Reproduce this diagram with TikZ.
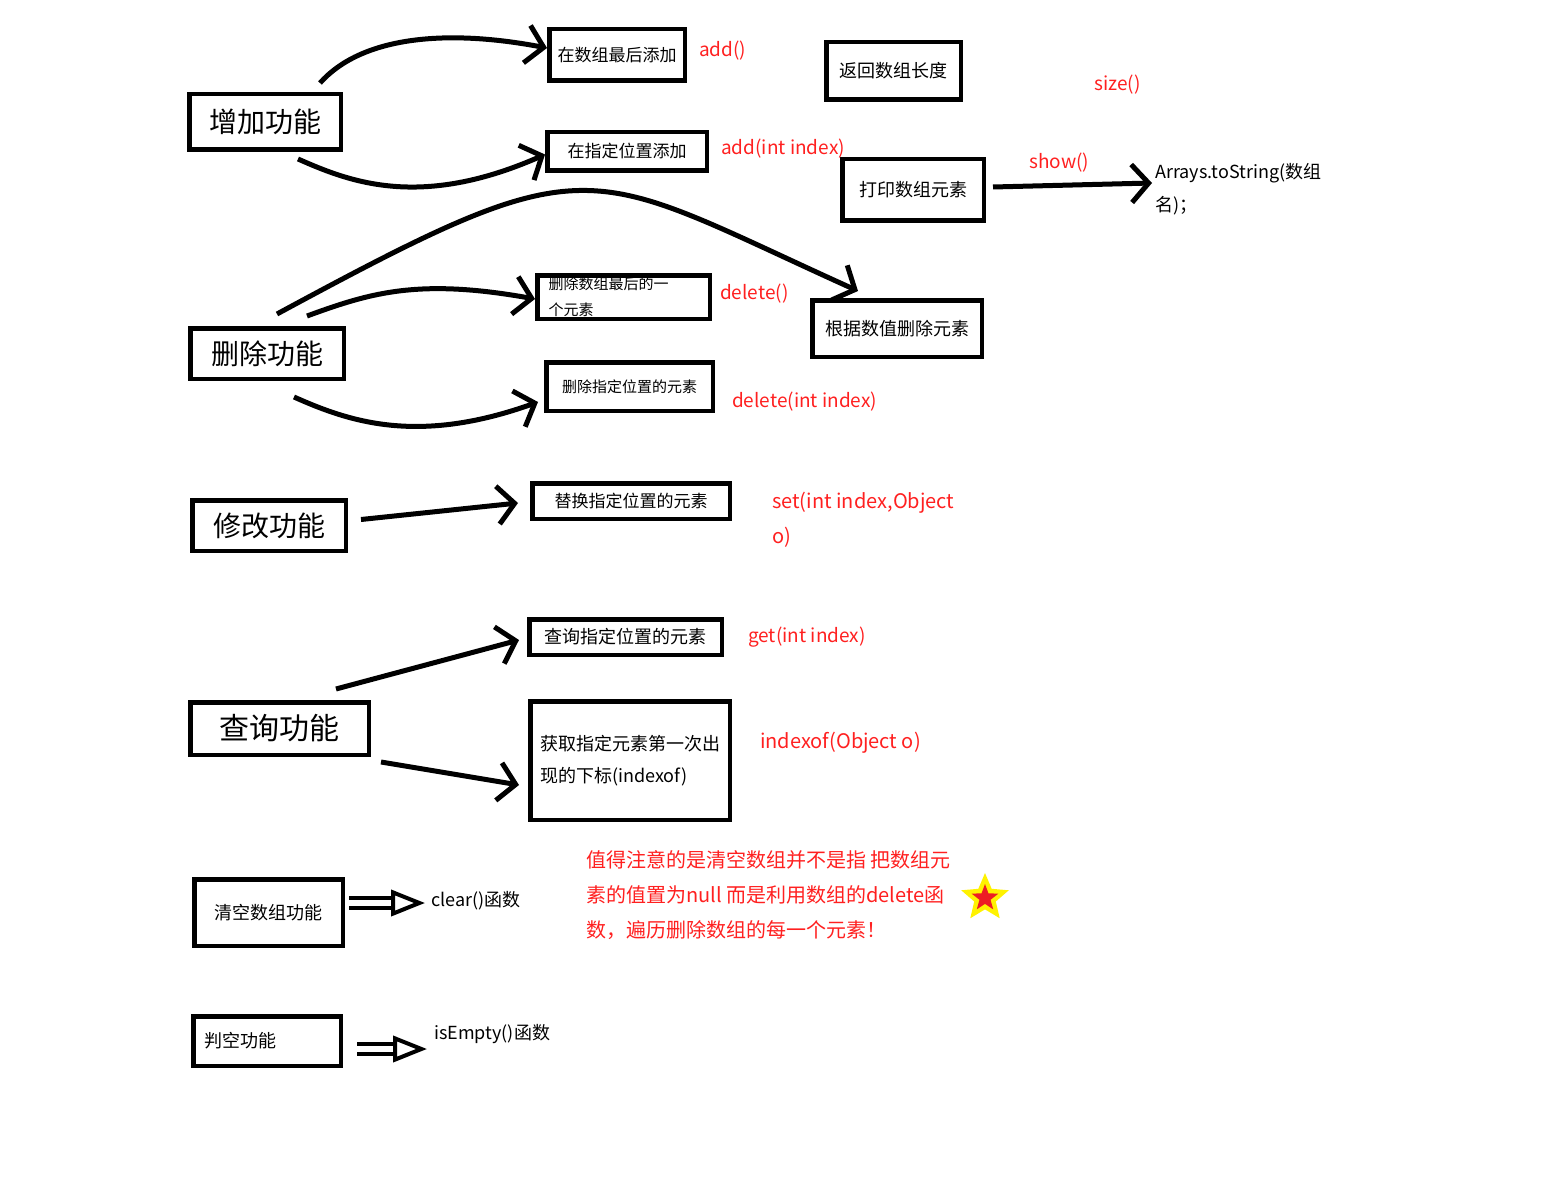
\documentclass[tikz,border=0pt]{standalone}
\usepackage{fontspec}
\setmainfont{Noto Sans CJK SC}
\definecolor{FnRed}{HTML}{FF2020}
\definecolor{StarRed}{HTML}{ED1C24}
\definecolor{StarYellow}{HTML}{FFF200}
\usetikzlibrary{positioning, arrows.meta, shapes.geometric, calc}
\newcommand{\fsz}[2]{\fontsize{#1}{#2}\selectfont}

\begin{document}
\begin{tikzpicture}[
  x=1pt, y=-1pt,
  box/.style={draw, line width=4.5pt, inner sep=0pt, align=center},
  main/.style={box, font=\fsz{28pt}{34pt}},
  item/.style={box, font=\fsz{18pt}{32pt}},
  fn/.style={text=FnRed, font=\fsz{19pt}{35pt}, inner sep=0pt, align=left, anchor=west},
  txt/.style={font=\fsz{18pt}{33pt}, inner sep=0pt, align=left, anchor=west},
  arr/.style={line width=5pt, -{Straight Barb[length=17pt, width=38pt]}},
  hollow/.style={double, double distance=6pt, line width=4pt,
                 -{Triangle[open, length=34pt, width=26pt, line width=4pt]}},
]
  \useasboundingbox (0,0) rectangle (1547,1177);

  % function groups
  \node[main, minimum width=151.5pt, minimum height=55.5pt] (add) at (265,122) {增加功能};
  \node[main, minimum width=153.5pt, minimum height=50.5pt] (del) at (267,353.5) {删除功能};
  \node[main, minimum width=153.5pt, minimum height=50.5pt] (mod) at (269,525.5) {修改功能};
  \node[main, font=\fsz{30pt}{34pt}, minimum width=178.5pt, minimum height=52.5pt] (get) at (279.5,728.5) {查询功能};
  \node[item, minimum width=148.5pt, minimum height=66.5pt] (clr) at (268.5,912.5) {清空数组功能};
  \node[item, align=left, text width=125.5pt, inner xsep=11pt, minimum height=49.5pt] (isEmp) at (267,1041) {判空功能};

  % operations
  \node[item, font=\fsz{17pt}{20pt}, minimum width=135.5pt, minimum height=51.5pt] (addLast) at (617,55) {在数组最后添加};
  \node[item, font=\fsz{17pt}{20pt}, minimum width=159.5pt, minimum height=38.5pt] (addAt) at (627,151.5) {在指定位置添加};
  \node[item, minimum width=134.5pt, minimum height=57.5pt] (len) at (893.5,71) {返回数组长度};
  \node[item, minimum width=141.5pt, minimum height=61.5pt] (show) at (913,190) {打印数组元素};
  \node[box, font=\fsz{15pt}{26pt}, align=left, text width=150pt, inner xsep=11.25pt, minimum height=43.5pt] (delLast) at (623.5,297) {删除数组最后的一\\个元素};
  \node[box, font=\fsz{15pt}{18pt}, minimum width=166.5pt, minimum height=48.5pt] (delAt) at (629.5,386.5) {删除指定位置的元素};
  \node[item, minimum width=169.5pt, minimum height=56.5pt] (delVal) at (897,328.5) {根据数值删除元素};
  \node[box, font=\fsz{17pt}{20pt}, minimum width=197.5pt, minimum height=35.5pt] (setAt) at (631,501) {替换指定位置的元素};
  \node[item, minimum width=192.5pt, minimum height=35.5pt] (getAt) at (625.5,637) {查询指定位置的元素};
  \node[item, align=left, minimum width=199.5pt, minimum height=118.5pt] (indexOf) at (630,760.5) {获取指定元素第一次出\\现的下标(indexof)};

  % method names
  \node[fn] (fAdd) at (699,51) {add()};
  \node[fn] (fAddAt) at (721,149) {add(int index)};
  \node[fn] (fSize) at (1094,85) {size()};
  \node[fn] (fShow) at (1029,163) {show()};
  \node[fn] (fDel) at (720,294) {delete()};
  \node[fn] (fDelAt) at (732,402) {delete(int index)};
  \node[fn, font=\fsz{20pt}{35pt}] (fSet) at (772,519.5) {set(int index,Object\\o)};
  \node[fn] (fGet) at (748,637) {get(int index)};
  \node[fn, font=\fsz{20pt}{35pt}] (fIndex) at (760,743) {indexof(Object o)};
  \node[txt] (toStr) at (1155,189.5) {Arrays.toString(数组\\名)；};
  \node[txt] (clearL) at (431,901) {clear()函数};
  \node[txt] (emptyL) at (434,1034) {isEmpty()函数};

  \node[fn, font=\fsz{20pt}{35pt}] (note) at (586,895) {值得注意的是清空数组并不是指 把数组元\\素的值置为null 而是利用数组的delete函\\数，遍历删除数组的每一个元素！};
  \node[star, star points=5, star point ratio=2.2, fill=StarYellow, minimum size=50pt, inner sep=0pt] (star) at (985,898) {};
  \node[star, star points=5, star point ratio=2.4, fill=StarRed, minimum size=28pt, inner sep=0pt] (starIn) at (star) {};

  \draw[arr] ($(add.north)+(55,-9)$) .. controls +(40,-45) and +(-105,-20) .. ([yshift=7pt]addLast.west);
  \draw[arr] ($(add.south)+(33,7)$) .. controls +(52,23) and +(-125,55) .. ([yshift=-3pt]addAt.west);
  \draw[arr] ($(del.north)+(10,-12)$) .. controls +(320,-173) and +(-277,-125) .. ($(delVal.north)+(-39,-7)$);
  \draw[arr] ($(del.north)+(40,-10)$) .. controls +(63,-23) and +(-117,-21) .. ([yshift=-2pt]delLast.west);
  \draw[arr] ($(del.south)+(27,16)$) .. controls +(56,25) and +(-120,43) .. ($(delAt.west)+(-6,15.5)$);
  \draw[arr] ($(mod.east)+(13,-6)$) -- ($(setAt.west)+(-12,2)$);
  \draw[arr] ($(get.north)+(56.5,-11)$) -- ($(getAt.west)+(-8,3)$);
  \draw[arr] ($(get.south east)+(10,5)$) -- ($(indexOf.west)+(-9,24.5)$);
  \draw[arr] ($(show.east)+(7,-3)$) -- ($(toStr.west)+(-3,-6.5)$);
  \draw[hollow] ($(clr.east)+(4,-9.5)$) -- ($(clearL.west)+(-6,2)$);
  \draw[hollow] ($(isEmp.east)+(14,8)$) -- ($(emptyL.west)+(-7,15)$);
\end{tikzpicture}
\end{document}
